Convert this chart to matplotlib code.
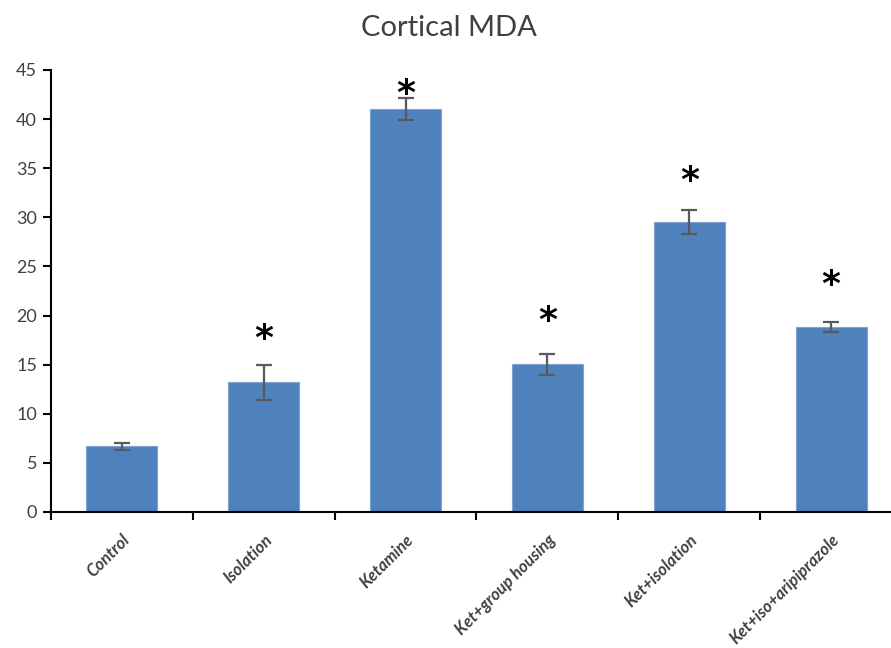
import matplotlib
matplotlib.use("Agg")
import matplotlib.pyplot as plt
import numpy as np

plt.rcParams['font.family'] = ['Lato', 'DejaVu Sans']

categories = ["Control", "Isolation", "Ketamine", "Ket+group housing",
              "Ket+isolation", "Ket+iso+aripiprazole"]
mda_means = [6.68, 13.2, 41.05, 15.05, 29.5, 18.85]
mda_errors = [0.35, 1.8, 1.15, 1.08, 1.2, 0.5]
significant = [False, True, True, True, True, True]
star_heights = [0, 17.6, 42.6, 19.4, 33.7, 23.1]

bar_color = "#4F81BD"
err_color = "#595959"
text_color = "#404040"

fig = plt.figure(figsize=(8.91, 6.48), dpi=100)
ax = fig.add_axes([51/891, 1 - 512/648, 851/891, 442/648])

x = np.arange(len(categories))
ax.bar(x, mda_means, width=0.5, color=bar_color, edgecolor="#7FA3D3",
       linewidth=0.8, zorder=2)
ax.errorbar(x, mda_means, yerr=mda_errors, fmt="none", ecolor=err_color,
            elinewidth=1.6, capsize=6, capthick=1.6, zorder=3)

for xi, flag, h in zip(x, significant, star_heights):
    if flag:
        ax.text(xi, h, "*", ha="center", va="center", fontsize=26,
                fontweight="bold", color="black", family="DejaVu Sans", zorder=4)

ax.set_xlim(-0.5, len(categories) - 0.5)
ax.set_ylim(0, 45)
ax.set_yticks(np.arange(0, 46, 5))

ax.set_xticks(x)
ax.set_xticklabels(categories, rotation=45, ha="right", rotation_mode="anchor",
                   fontsize=12, fontweight="bold", fontstyle="italic",
                   color=text_color)
ax.set_xticks(np.arange(-0.5, len(categories), 1), minor=True)
ax.tick_params(axis="x", which="major", length=0, pad=14)
ax.tick_params(axis="x", which="minor", length=6, width=1.5, direction="out",
               color="black")
ax.tick_params(axis="y", length=6, width=1.5, direction="out", color="black",
               labelsize=13, labelcolor=text_color, pad=4)

for side in ("top", "right"):
    ax.spines[side].set_visible(False)
for side in ("left", "bottom"):
    ax.spines[side].set_linewidth(1.5)
    ax.spines[side].set_color("black")

fig.text(449/891, 1 - 28/648, "Cortical MDA", ha="center", va="center",
         fontsize=21, color=text_color)

fig.savefig("out.png", dpi=100)
